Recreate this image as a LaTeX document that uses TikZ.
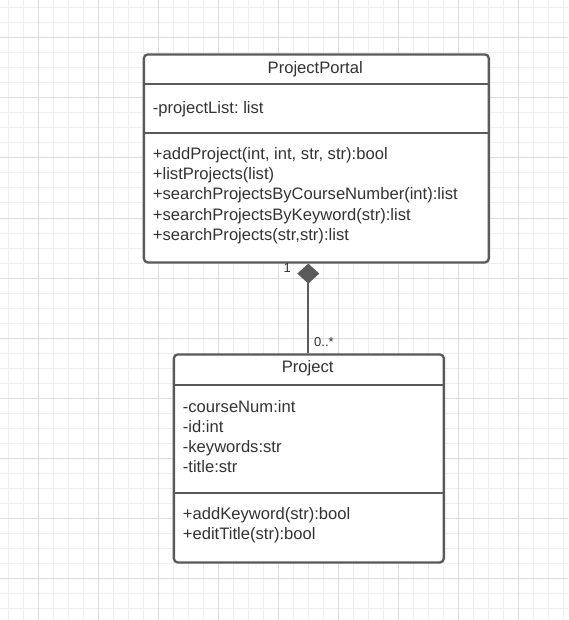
\documentclass[tikz,border=0pt]{standalone}
\usepackage{fontspec}
\setmainfont{Liberation Sans}
\usetikzlibrary{arrows.meta}
\definecolor{umlgray}{HTML}{5A5A5A}
\definecolor{umltext}{HTML}{333333}
\definecolor{gridminor}{HTML}{EEEEEE}
\definecolor{gridmajor}{HTML}{DCDCDC}
\frenchspacing
\tikzset{
	classbox/.style={draw=umlgray, line width=2.3pt, rounded corners=4pt, anchor=north west, inner sep=0pt},
	divider/.style={draw=umlgray, line width=2.3pt},
	member/.style={anchor=base west, inner sep=0pt, text=umltext, font=\fontsize{16.6}{20}\selectfont},
	classname/.style={anchor=base, inner sep=0pt, text=umltext, font=\fontsize{16.6}{20}\selectfont},
	mult/.style={anchor=base west, inner sep=0pt, text=umltext, font=\fontsize{13}{15}\selectfont},
}
\begin{document}
\begin{tikzpicture}[x=1pt, y=-1pt]
		\useasboundingbox (0,0) rectangle (568,620);
		\fill[white] (0,0) rectangle (568,620);
		% background grid
		\foreach \x in {8,23,...,563} \draw[gridminor, line width=1pt] (\x,0) -- (\x,620);
		\foreach \y in {8,23,...,608} \draw[gridminor, line width=1pt] (0,\y) -- (568,\y);
		\foreach \x in {38,98,...,518} \draw[gridmajor, line width=1pt] (\x,0) -- (\x,620);
		\foreach \y in {38,98,...,578} \draw[gridmajor, line width=1pt] (0,\y) -- (568,\y);
		% ProjectPortal
		\node[classbox, fill=white, minimum width=345pt, minimum height=208pt] (portal) at (142.7,53.3) {};
		\draw[divider] (142.7,84.3) -- (487.7,84.3);
		\draw[divider] (142.7,133.3) -- (487.7,133.3);
		\node[classname] (portalname) at (315.2,73.5) {ProjectPortal};
		\node[member] (portalattr) at (152.7,113.3) {-projectList: list};
		\foreach \m [count=\i] in {{+addProject(int, int, str, str):bool}, {+listProjects(list)},
			{+searchProjectsByCourseNumber(int):list}, {+searchProjectsByKeyword(str):list},
			{+searchProjects(str,str):list}}
			\node[member] (portalop\i) at (152.7,140+20*\i) {\m};
		% Project
		\node[classbox, fill=white, minimum width=270pt, minimum height=208pt] (project) at (172.7,353.3) {};
		\draw[divider] (172.7,385) -- (442.7,385);
		\draw[divider] (172.7,493.3) -- (442.7,493.3);
		\node[classname] (projectname) at (307.7,372.4) {Project};
		\foreach \a [count=\i] in {-courseNum:int, -id:int, -keywords:str, -title:str}
			\node[member] (projectattr\i) at (182.7,392.5+20*\i) {\a};
		\foreach \m [count=\i] in {+addKeyword(str):bool, +editTitle(str):bool}
			\node[member] (projectop\i) at (182.7,499.5+20*\i) {\m};
		% composition
		\draw[umlgray, line width=2pt, -{Diamond[length=20pt, width=22pt, fill=umlgray]}] (project.north -| 308.3,0) -- (portal.south -| 308.3,0);
		\node[mult] (portalmult) at (283.5,272.7) {1};
		\node[mult] (projectmult) at (314,346.7) {0..*};
	\end{tikzpicture}
\end{document}
